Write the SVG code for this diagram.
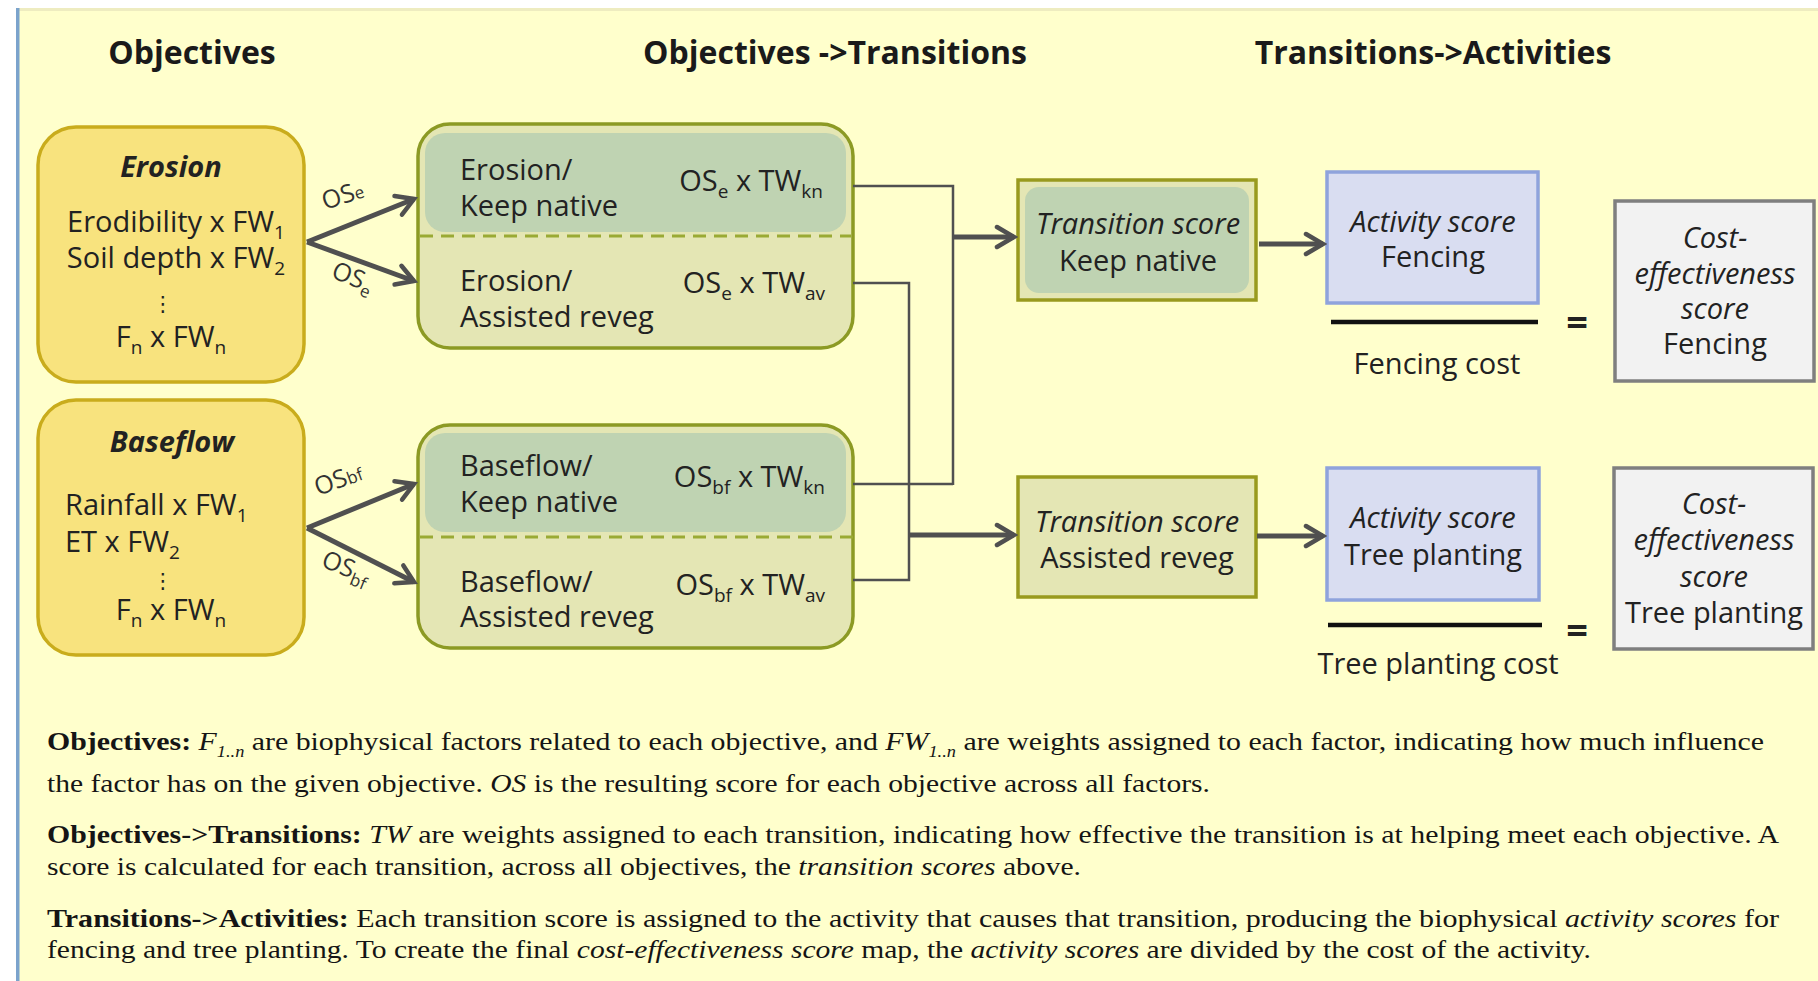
<svg xmlns="http://www.w3.org/2000/svg" width="1818" height="981" viewBox="0 0 1818 981">
<defs>
<style>
.s{font-family:"Open Sans","Noto Sans","DejaVu Sans",sans-serif;font-size:29px;fill:#222;}
.h{font-family:"Open Sans","Noto Sans",sans-serif;font-size:32px;font-weight:700;fill:#1a1a1a;text-anchor:middle;}
.it{font-style:italic;}
.bi{font-style:italic;font-weight:700;}
.m{text-anchor:middle;}
.e{text-anchor:end;}
.os{font-family:"Open Sans","Noto Sans",sans-serif;font-size:25px;fill:#333;}
.ft{font-family:"Liberation Serif","Times New Roman",serif;font-size:26px;fill:#151515;}
.obj{fill:#F8E37E;stroke:#C9AC1C;stroke-width:3.5;}
.tg{fill:#E4E6B4;stroke:#8C9A24;stroke-width:3.5;}
.tgin{fill:#BFD3B2;}
.dash{stroke:#9AAA34;stroke-width:3;stroke-dasharray:13 8;fill:none;}
.ts{fill:#E4E6B4;stroke:#999A1E;stroke-width:3.5;}
.act{fill:#D9DDF1;stroke:#8FA3DC;stroke-width:3.5;}
.ce{fill:#F2F2F2;stroke:#7F7F7F;stroke-width:3.5;}
.thin{fill:none;stroke:#505050;stroke-width:2.5;}
.thick{fill:none;stroke:#505050;stroke-width:5;marker-end:url(#ah);}
.frac{stroke:#111;stroke-width:4.5;}
.dots{font-family:"DejaVu Sans",sans-serif;font-size:21px;fill:#222;text-anchor:middle;}
</style>
<marker id="ah" viewBox="0 0 26 26" refX="22" refY="13" markerWidth="26" markerHeight="26" markerUnits="userSpaceOnUse" orient="auto">
<path d="M5,3 L22,13 L5,23" fill="none" stroke="#505050" stroke-width="4.5" stroke-linecap="round"/>
</marker>
</defs>

<rect x="0" y="0" width="1818" height="981" fill="#ffffff"/>
<rect x="19" y="8" width="1799" height="973" fill="#FFFFCC"/>
<rect x="19" y="8" width="1799" height="3" fill="#EEECC0"/>
<rect x="16" y="8" width="3.5" height="973" fill="#7BA3CC"/>

<g id="headings">
<text class="h" x="192" y="64">Objectives</text>
<text class="h" x="835" y="64">Objectives -&gt;Transitions</text>
<text class="h" x="1433" y="64">Transitions-&gt;Activities</text>
</g>

<g id="erosion">
<rect class="obj" x="38" y="127" width="266" height="255" rx="38"/>
<text class="s bi m" x="171" y="177">Erosion</text>
<text class="s m" x="176" y="232">Erodibility x FW<tspan font-size="19" dy="7">1</tspan></text>
<text class="s m" x="176" y="268">Soil depth x FW<tspan font-size="19" dy="7">2</tspan></text>
<text class="dots" x="163" y="311">⋮</text>
<text class="s m" x="171" y="347">F<tspan font-size="19" dy="7">n</tspan><tspan dy="-7"> x FW</tspan><tspan font-size="19" dy="7">n</tspan></text>
</g>

<g id="baseflow">
<rect class="obj" x="38" y="400" width="266" height="255" rx="38"/>
<text class="s bi m" x="172" y="452">Baseflow</text>
<text class="s" x="65" y="515">Rainfall x FW<tspan font-size="19" dy="7">1</tspan></text>
<text class="s" x="65" y="552">ET x FW<tspan font-size="19" dy="7">2</tspan></text>
<text class="dots" x="163" y="588">⋮</text>
<text class="s m" x="171" y="620">F<tspan font-size="19" dy="7">n</tspan><tspan dy="-7"> x FW</tspan><tspan font-size="19" dy="7">n</tspan></text>
</g>

<g id="erosion-transitions">
<rect class="tg" x="418" y="124" width="435" height="224" rx="32"/>
<rect class="tgin" x="425" y="133" width="421" height="99" rx="20"/>
<line class="dash" x1="420" y1="236" x2="851" y2="236"/>
<text class="s" x="460" y="180">Erosion/</text>
<text class="s" x="460" y="216">Keep native</text>
<text class="s e" x="823" y="191">OS<tspan font-size="19" dy="7">e</tspan><tspan dy="-7"> x TW</tspan><tspan font-size="19" dy="7">kn</tspan></text>
<text class="s" x="460" y="291">Erosion/</text>
<text class="s" x="460" y="327">Assisted reveg</text>
<text class="s e" x="825" y="293">OS<tspan font-size="19" dy="7">e</tspan><tspan dy="-7"> x TW</tspan><tspan font-size="19" dy="7">av</tspan></text>
</g>

<g id="baseflow-transitions">
<rect class="tg" x="418" y="425" width="435" height="223" rx="32"/>
<rect class="tgin" x="425" y="433" width="421" height="99" rx="20"/>
<line class="dash" x1="420" y1="537" x2="853" y2="537"/>
<text class="s" x="460" y="476">Baseflow/</text>
<text class="s" x="460" y="512">Keep native</text>
<text class="s e" x="825" y="487">OS<tspan font-size="19" dy="7">bf</tspan><tspan dy="-7"> x TW</tspan><tspan font-size="19" dy="7">kn</tspan></text>
<text class="s" x="460" y="592">Baseflow/</text>
<text class="s" x="460" y="627">Assisted reveg</text>
<text class="s e" x="825" y="595">OS<tspan font-size="19" dy="7">bf</tspan><tspan dy="-7"> x TW</tspan><tspan font-size="19" dy="7">av</tspan></text>
</g>

<g id="ts-keep-native">
<rect class="ts" x="1018" y="180" width="238" height="120"/>
<rect class="tgin" x="1025" y="187" width="224" height="106" rx="14"/>
<text class="s it m" x="1138" y="234">Transition score</text>
<text class="s m" x="1138" y="271">Keep native</text>
</g>

<g id="ts-assisted-reveg">
<rect class="ts" x="1018" y="477" width="238" height="120"/>
<text class="s it m" x="1137" y="532">Transition score</text>
<text class="s m" x="1137" y="568">Assisted reveg</text>
</g>

<g id="activity-fencing">
<rect class="act" x="1327" y="172" width="211" height="131"/>
<text class="s it m" x="1433" y="232">Activity score</text>
<text class="s m" x="1433" y="267">Fencing</text>
<line class="frac" x1="1331" y1="322" x2="1538" y2="322"/>
<text class="s m" x="1437" y="374">Fencing cost</text>
<text x="1577" y="336" font-family="Open Sans,sans-serif" font-weight="700" font-size="38" fill="#222" text-anchor="middle">=</text>
</g>

<g id="activity-tree">
<rect class="act" x="1327" y="468" width="212" height="132"/>
<text class="s it m" x="1433" y="528">Activity score</text>
<text class="s m" x="1433" y="565">Tree planting</text>
<line class="frac" x1="1328" y1="625" x2="1542" y2="625"/>
<text class="s m" x="1438" y="674">Tree planting cost</text>
<text x="1577" y="644" font-family="Open Sans,sans-serif" font-weight="700" font-size="38" fill="#222" text-anchor="middle">=</text>
</g>

<g id="ce-fencing">
<rect class="ce" x="1615" y="201" width="199" height="180"/>
<text class="s it m" x="1715" y="248">Cost-</text>
<text class="s it m" x="1715" y="284">effectiveness</text>
<text class="s it m" x="1715" y="319">score</text>
<text class="s m" x="1715" y="354">Fencing</text>
</g>

<g id="ce-tree">
<rect class="ce" x="1614" y="468" width="199" height="181"/>
<text class="s it m" x="1714" y="514">Cost-</text>
<text class="s it m" x="1714" y="550">effectiveness</text>
<text class="s it m" x="1714" y="587">score</text>
<text class="s m" x="1714" y="623">Tree planting</text>
</g>

<g id="connectors">
<path class="thick" d="M307,242 L414,199"/>
<path class="thick" d="M307,242 L414,281"/>
<path class="thick" d="M307,528 L414,484"/>
<path class="thick" d="M307,528 L414,582"/>
<text class="os" transform="translate(325,210) rotate(-18)">OS<tspan font-size="17">e</tspan></text>
<text class="os" transform="translate(330,277) rotate(22)">OS<tspan font-size="17" dy="6">e</tspan></text>
<text class="os" transform="translate(318,496) rotate(-20)">OS<tspan font-size="17">bf</tspan></text>
<text class="os" transform="translate(320,566) rotate(22)">OS<tspan font-size="17" dy="6">bf</tspan></text>
<path class="thin" d="M853,186 H953 V485 M853,484 H953"/>
<path class="thin" d="M853,283 H909 V580 H853"/>
<path class="thick" d="M953,237 H1014"/>
<path class="thick" d="M909,535 H1014"/>
<path class="thick" d="M1259,244 H1323"/>
<path class="thick" d="M1257,536 H1323"/>
</g>

<g id="notes">
<text class="ft" x="47" y="750" textLength="1717" lengthAdjust="spacingAndGlyphs"><tspan font-weight="700">Objectives:</tspan> <tspan font-style="italic">F</tspan><tspan font-style="italic" font-size="16" dy="7">1..n</tspan><tspan dy="-7"> are biophysical factors related to each objective, and </tspan><tspan font-style="italic">FW</tspan><tspan font-style="italic" font-size="16" dy="7">1..n</tspan><tspan dy="-7"> are weights assigned to each factor, indicating how much influence</tspan></text>
<text class="ft" x="47" y="792" textLength="1163" lengthAdjust="spacingAndGlyphs">the factor has on the given objective. <tspan font-style="italic">OS</tspan> is the resulting score for each objective across all factors.</text>
<text class="ft" x="47" y="843" textLength="1732" lengthAdjust="spacingAndGlyphs"><tspan font-weight="700">Objectives-&gt;Transitions:</tspan> <tspan font-style="italic">TW</tspan> are weights assigned to each transition, indicating how effective the transition is at helping meet each objective. A</text>
<text class="ft" x="47" y="875" textLength="1034" lengthAdjust="spacingAndGlyphs">score is calculated for each transition, across all objectives, the <tspan font-style="italic">transition scores</tspan> above.</text>
<text class="ft" x="47" y="927" textLength="1732" lengthAdjust="spacingAndGlyphs"><tspan font-weight="700">Transitions-&gt;Activities:</tspan> Each transition score is assigned to the activity that causes that transition, producing the biophysical <tspan font-style="italic">activity scores</tspan> for</text>
<text class="ft" x="47" y="958" textLength="1544" lengthAdjust="spacingAndGlyphs">fencing and tree planting. To create the final <tspan font-style="italic">cost-effectiveness score</tspan> map, the <tspan font-style="italic">activity scores</tspan> are divided by the cost of the activity.</text>
</g>
</svg>
